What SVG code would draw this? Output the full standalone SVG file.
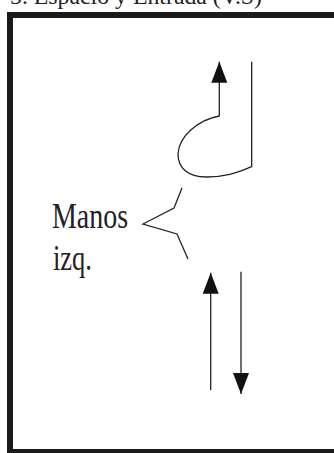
<svg xmlns="http://www.w3.org/2000/svg" width="334" height="453" viewBox="0 0 334 453">
  <defs>
    <style>
      .txt { font-family: "Liberation Serif", "Times New Roman", serif; fill: #222; }
      .ln { fill: none; stroke: #222; stroke-width: 1.3; }
      .frame { fill: none; stroke: #1a1a1a; stroke-width: 6; }
    </style>
    <marker id="ah" markerUnits="userSpaceOnUse" markerWidth="22" markerHeight="17" refX="21" refY="8" orient="auto">
      <path d="M0,0 L21,8 L0,16 Z" fill="#111"/>
    </marker>
  </defs>
  <rect width="334" height="453" fill="#fff"/>
  <g id="title">
    <text class="txt" x="10" y="4" font-size="24" textLength="252" lengthAdjust="spacingAndGlyphs">5. Espacio y Entrada (V.S)</text>
  </g>
  <g id="frame">
    <rect class="frame" x="10" y="15" width="340" height="437"/>
  </g>
  <g id="label">
    <text class="txt" x="52" y="228" font-size="35" textLength="76" lengthAdjust="spacingAndGlyphs">Manos</text>
    <text class="txt" x="53" y="270" font-size="35" textLength="39" lengthAdjust="spacingAndGlyphs">izq.</text>
  </g>
  <g id="callout">
    <path class="ln" d="M182,188 L174,208 L143,224 L177,234 L188,259"/>
  </g>
  <g id="connectors">
    <path class="ln" d="M251.7,61.7 L251.7,166.7 C240,171 228,177 206,177 C188,177 178,168 178,154 C179,136 198,120 219.3,116 L219.3,61.7" marker-end="url(#ah)"/>
    <path class="ln" d="M210.7,390 L210.7,272.7" marker-end="url(#ah)"/>
    <path class="ln" d="M241,271.7 L241,394" marker-end="url(#ah)"/>
  </g>
</svg>
